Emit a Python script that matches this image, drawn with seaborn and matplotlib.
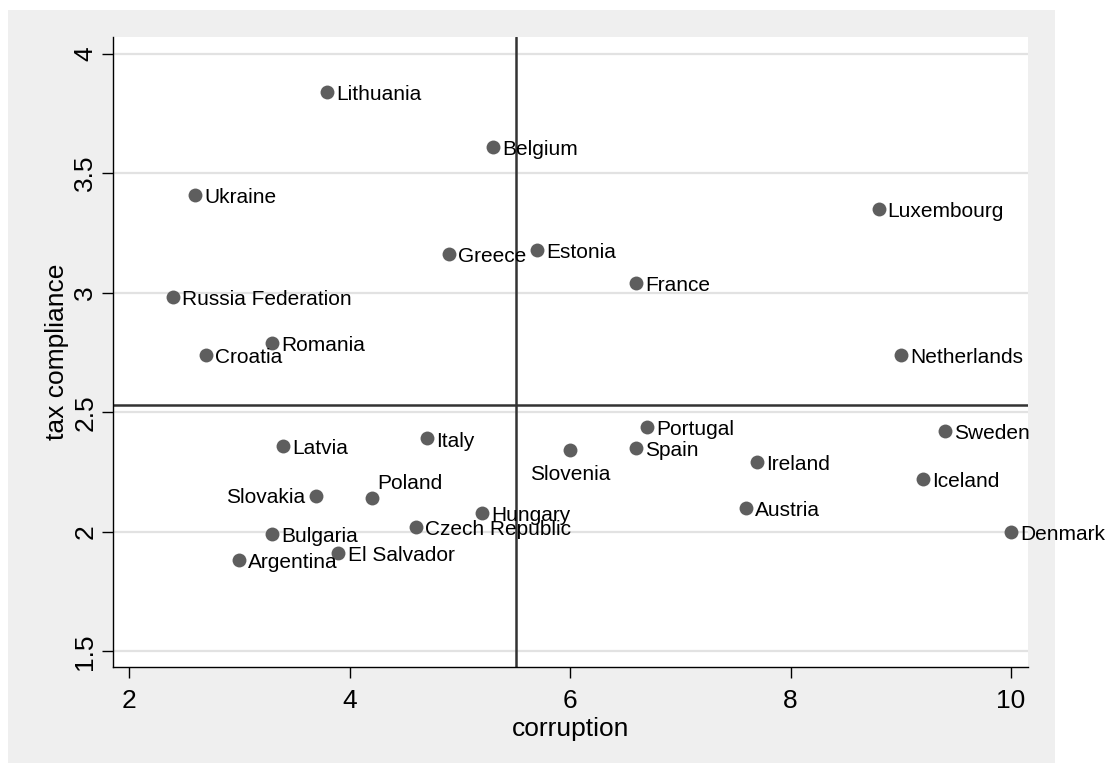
import matplotlib
matplotlib.use("Agg")
import matplotlib.pyplot as plt
from matplotlib.patches import Rectangle
import pandas as pd
import seaborn as sns

# Country scores: corruption index vs. tax compliance
countries = [
    "Lithuania", "Belgium", "Ukraine", "Luxembourg", "Greece", "Estonia",
    "France", "Russia Federation", "Romania", "Croatia", "Netherlands",
    "Portugal", "Sweden", "Italy", "Latvia", "Slovenia", "Spain", "Ireland",
    "Iceland", "Slovakia", "Poland", "Austria", "Hungary", "Czech Republic",
    "Denmark", "Bulgaria", "El Salvador", "Argentina",
]
corruption = [
    3.8, 5.3, 2.6, 8.8, 4.9, 5.7,
    6.6, 2.4, 3.3, 2.7, 9.0,
    6.7, 9.4, 4.7, 3.4, 6.0, 6.6, 7.7,
    9.2, 3.7, 4.2, 7.6, 5.2, 4.6,
    10.0, 3.3, 3.9, 3.0,
]
tax_compliance = [
    3.84, 3.61, 3.41, 3.35, 3.16, 3.18,
    3.04, 2.98, 2.79, 2.74, 2.74,
    2.44, 2.42, 2.39, 2.36, 2.34, 2.35, 2.29,
    2.22, 2.15, 2.14, 2.10, 2.08, 2.02,
    2.00, 1.99, 1.91, 1.88,
]

# Reference lines splitting the plot into quadrants
corruption_ref = 5.51
compliance_ref = 2.53

x_ticks = [2, 4, 6, 8, 10]
x_tick_labels = ["2", "4", "6", "8", "10"]
y_ticks = [1.5, 2, 2.5, 3, 3.5, 4]
y_tick_labels = ["1.5", "2", "2.5", "3", "3.5", "4"]

# Marker-label placement (default is to the right of the marker)
label_place = {"Slovenia": "below", "Slovakia": "left", "Poland": "upper right"}
place_style = {
    "right": dict(xytext=(6.5, -5.8), ha="left"),
    "left": dict(xytext=(-8.4, -5.3), ha="right"),
    "below": dict(xytext=(0, -21.4), ha="center"),
    "upper right": dict(xytext=(4.0, 6.7), ha="left"),
}

df = pd.DataFrame({"country": countries, "corruption": corruption,
                   "tax compliance": tax_compliance})

sns.set_theme(style="white")
plt.rcParams["font.family"] = ["Liberation Sans", "DejaVu Sans"]

W, H = 1114, 765
fig = plt.figure(figsize=(W / 100, H / 100), dpi=100)
fig.patch.set_facecolor("white")
# light grey graph region
fig.patches.append(Rectangle((8 / W, 1 - 763 / H), (1055 - 8) / W, (763 - 10) / H,
                             transform=fig.transFigure, facecolor="#efefef",
                             edgecolor="none", zorder=-10))

left, right, top, bottom = 112.7, 1028, 37.3, 667.3
ax = fig.add_axes([left / W, 1 - bottom / H, (right - left) / W, (bottom - top) / H])
ax.set_facecolor("white")

sns.scatterplot(data=df, x="corruption", y="tax compliance", ax=ax,
                color="#5e5e5e", s=100, linewidth=0, zorder=3)

ax.axvline(corruption_ref, color="#333333", lw=1.8, zorder=2)
ax.axhline(compliance_ref, color="#333333", lw=1.8, zorder=2)

for name, xv, yv in zip(df["country"], df["corruption"], df["tax compliance"]):
    st = place_style[label_place.get(name, "right")]
    ax.annotate(name, (xv, yv), xytext=st["xytext"], textcoords="offset points",
                ha=st["ha"], va="baseline", fontsize=15, color="black",
                zorder=4, annotation_clip=False)

ax.set_xlim(1.852, 10.154)
ax.set_ylim(1.433, 4.068)
ax.set_xticks(x_ticks, x_tick_labels)
ax.set_yticks(y_ticks, y_tick_labels)
ax.grid(axis="y", color="#e2e2e2", lw=1.6, zorder=0)
ax.grid(axis="x", visible=False)
ax.set_axisbelow(True)

for s in ["top", "right"]:
    ax.spines[s].set_visible(False)
for s in ["left", "bottom"]:
    ax.spines[s].set_color("black")
    ax.spines[s].set_linewidth(1.0)

ax.tick_params(axis="both", which="major", direction="out", length=8, width=1.0,
               color="black", labelsize=19, labelcolor="black")
ax.tick_params(axis="x", pad=7.5, bottom=True)
ax.tick_params(axis="y", pad=3, left=True, labelrotation=90)
for lab in ax.get_yticklabels():
    lab.set_va("center")
    lab.set_ha("right")

ax.set_xlabel("corruption", fontsize=19, labelpad=3, color="black")
ax.set_ylabel("tax compliance", fontsize=19, labelpad=3, color="black")

fig.savefig("out.png", dpi=100)
